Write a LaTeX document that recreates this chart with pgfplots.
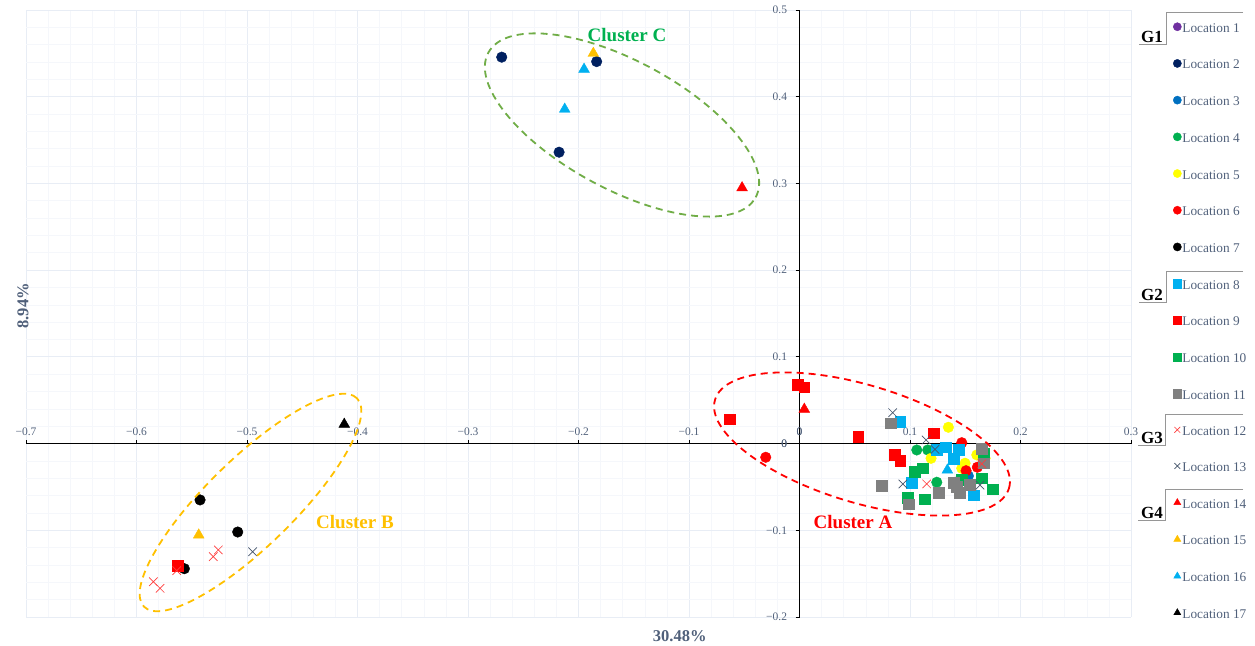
\documentclass[border=0pt]{standalone}
\usepackage{fontspec}
\setmainfont{Liberation Serif}
\usepackage{pgfplots}
\pgfplotsset{compat=1.18}
\definecolor{cA}{RGB}{112,48,160}
\definecolor{cB}{RGB}{0,32,96}
\definecolor{cC}{RGB}{0,112,192}
\definecolor{cD}{RGB}{0,176,80}
\definecolor{cE}{RGB}{255,255,0}
\definecolor{cF}{RGB}{255,0,0}
\definecolor{cH}{RGB}{0,176,240}
\definecolor{cK}{RGB}{128,128,128}
\definecolor{cL}{RGB}{255,60,60}
\definecolor{cM}{RGB}{68,84,106}
\definecolor{cO}{RGB}{255,192,0}
\definecolor{ellC}{RGB}{112,173,71}
\definecolor{slate}{RGB}{80,96,122}
\definecolor{gmaj}{RGB}{232,237,245}
\definecolor{gmin}{RGB}{245,247,251}
\definecolor{brk}{RGB}{150,150,150}
\begin{document}
\begin{tikzpicture}[x=1pt,y=1pt]
\path[use as bounding box] (0,0) rectangle (1255,645);
\begin{axis}[
  at={(26pt,28pt)}, anchor=south west,
  scale only axis, width=1105pt, height=607pt,
  xmin=-0.7, xmax=0.3, ymin=-0.2, ymax=0.5,
  axis lines=middle,
  axis line style={black, line width=1pt, -},
  xtick={-0.7,-0.6,-0.5,-0.4,-0.3,-0.2,-0.1,0,0.1,0.2,0.3},
  xticklabels={−0.7,−0.6,−0.5,−0.4,−0.3,−0.2,−0.1,0,0.1,0.2,0.3},
  ytick={-0.2,-0.1,0,0.1,0.2,0.3,0.4,0.5},
  yticklabels={−0.2,−0.1,0,0.1,0.2,0.3,0.4,0.5},
  extra y ticks={0}, extra y tick labels={0},
  extra x ticks={0}, extra x tick labels={0},
  extra tick style={grid=none},
  minor tick num=4,
  grid=both,
  major grid style={draw=gmaj, line width=0.8pt},
  minor grid style={draw=gmin, line width=0.6pt},
  tick align=outside,
  major tick length=4pt, minor tick length=0pt,
  x tick style={yshift=4pt, black, line width=0.8pt},
  y tick style={black, line width=0.8pt},
  tick label style={font=\fontsize{11.5}{11.5}\selectfont, text=slate},
  x tick label style={anchor=south, yshift=8pt},
  y tick label style={anchor=east, xshift=-5pt},
  hide obscured x ticks=false, hide obscured y ticks=false,
  clip=false,
  legend cell align=left,
  legend image code/.code={\draw[mark repeat=2,mark phase=2,#1,mark size=4.1pt] plot coordinates {(0pt,3pt)(5pt,3pt)(10pt,3pt)};},
  legend style={at={(axis description cs:1.038,0.9795)}, anchor=north west,
    draw=none, fill=none, inner sep=0pt, row sep=23.1pt, column sep=1pt,
    nodes={inner sep=0pt, text height=9pt, text depth=4pt},
    font=\fontsize{13.3}{13.3}\selectfont, text=slate},
]
\addplot[only marks, mark=*, color=cA, mark size=5.3pt] coordinates {(0.1452,-0.0420)};
\addlegendentry{Location 1}
\addplot[only marks, mark=*, color=cB, mark size=5.3pt] coordinates {(-0.2695,0.4456) (-0.1836,0.4405) (-0.2176,0.3360)};
\addlegendentry{Location 2}
\addplot[only marks, mark=*, color=cC, mark size=5.3pt] coordinates {(0.1528,-0.0374)};
\addlegendentry{Location 3}
\addplot[only marks, mark=*, color=cD, mark size=5.3pt] coordinates {(0.1061,-0.0074) (0.1160,-0.0074) (0.1242,-0.0446)};
\addlegendentry{Location 4}
\addplot[only marks, mark=*, color=cE, mark size=5.3pt] coordinates {(0.1347,0.0188) (0.1190,-0.0170) (0.1498,-0.0227) (0.1468,-0.0285) (0.1604,-0.0131) (0.1679,-0.0170)};
\addlegendentry{Location 5}
\addplot[only marks, mark=*, color=cF, mark size=5.3pt] coordinates {(-0.0306,-0.0158) (0.1468,0.0010) (0.1507,-0.0313) (0.1609,-0.0273)};
\addlegendentry{Location 6}
\addplot[only marks, mark=*, color=black, mark size=5.3pt] coordinates {(-0.5425,-0.0650) (-0.5084,-0.1020) (-0.5567,-0.1443)};
\addlegendentry{Location 7}
\addplot[only marks, mark=square*, color=cH, mark size=5.4pt] coordinates {(0.0910,0.0253) (0.1242,-0.0074) (0.1326,-0.0043) (0.1437,-0.0074) (0.1392,-0.0170) (0.1015,-0.0451) (0.1573,-0.0596)};
\addlegendentry{Location 8}
\addplot[only marks, mark=square*, color=cF, mark size=5.4pt] coordinates {(-0.0020,0.0676) (0.0043,0.0650) (-0.0635,0.0280) (0.0530,0.0080) (0.0864,-0.0124) (0.0910,-0.0200) (0.1211,0.0119) (-0.5627,-0.1404)};
\addlegendentry{Location 9}
\addplot[only marks, mark=square*, color=cD, mark size=5.4pt] coordinates {(0.1115,-0.0285) (0.1045,-0.0324) (0.0977,-0.0624) (0.1136,-0.0642) (0.1748,-0.0527) (0.1649,-0.0400) (0.1663,-0.0112) (0.1468,-0.0420)};
\addlegendentry{Location 10}
\addplot[only marks, mark=square*, color=cK, mark size=5.4pt] coordinates {(0.0825,0.0234) (0.0744,-0.0486) (0.0986,-0.0700) (0.1256,-0.0566) (0.1392,-0.0451) (0.1452,-0.0566) (0.1543,-0.0478) (0.1649,-0.0062) (0.1663,-0.0227) (0.1420,-0.0500)};
\addlegendentry{Location 11}
\addplot[only marks, mark=x, color=cL, mark size=6pt, mark options={line width=0.7pt}] coordinates {(0.1151,-0.0466) (0.1649,-0.0235) (-0.5260,-0.1227) (-0.5305,-0.1304) (-0.5636,-0.1466) (-0.5848,-0.1593) (-0.5787,-0.1669)};
\addlegendentry{Location 12}
\addplot[only marks, mark=x, color=cM, mark size=6pt, mark options={line width=0.7pt}] coordinates {(0.0843,0.0356) (0.1145,0.0042) (0.1226,-0.0066) (0.0935,-0.0466) (0.1633,-0.0478) (-0.4949,-0.1247)};
\addlegendentry{Location 13}
\addplot[only marks, mark=triangle*, color=cF, mark size=6.2pt] coordinates {(0.0043,0.0396) (-0.0520,0.2950)};
\addlegendentry{Location 14}
\addplot[only marks, mark=triangle*, color=cO, mark size=6.2pt] coordinates {(-0.1866,0.4500) (-0.5437,-0.1054)};
\addlegendentry{Location 15}
\addplot[only marks, mark=triangle*, color=cH, mark size=6.2pt] coordinates {(-0.1950,0.4317) (-0.2125,0.3856) (0.1338,-0.0305)};
\addlegendentry{Location 16}
\addplot[only marks, mark=triangle*, color=black, mark size=6.2pt] coordinates {(-0.4120,0.0223)};
\addlegendentry{Location 17}
\end{axis}
% cluster ellipses
\draw[ellC, line width=1.8pt, dash pattern=on 7pt off 5pt, rotate around={-28.4:(622,520)}] (622,520) ellipse [x radius=152, y radius=64];
\draw[cO, line width=1.8pt, dash pattern=on 7pt off 5pt, rotate around={44.35:(250.5,142.5)}] (250.5,142.5) ellipse [x radius=149, y radius=43.7];
\draw[cF, line width=1.8pt, dash pattern=on 7pt off 5pt, rotate around={-16.8:(862,201)}] (862,201) ellipse [x radius=153.5, y radius=58.7];
\node[anchor=base, text=cD, font=\fontsize{19}{19}\selectfont\bfseries] at (627,603) {Cluster C};
\node[anchor=base, text=cO, font=\fontsize{19}{19}\selectfont\bfseries] at (355,116.5) {Cluster B};
\node[anchor=base, text=cF, font=\fontsize{19}{19}\selectfont\bfseries] at (853,116.7) {Cluster A};
% axis titles
\node[anchor=base, text=slate, font=\fontsize{16.5}{16.5}\selectfont\bfseries] at (679.7,3.3) {30.48\%};
\node[anchor=base, rotate=90, text=slate, font=\fontsize{16.5}{16.5}\selectfont\bfseries] at (28.3,339.2) {8.94\%};
% legend group headers
\draw[brk, line width=1pt] (1243,632.3) -- (1166,632.3) -- (1166,600.7) -- (1139,600.7);
\draw[brk, line width=1pt] (1243,373.3) -- (1166,373.3) -- (1166,342.3) -- (1139,342.3);
\draw[brk, line width=1pt] (1243,230.7) -- (1165,230.7) -- (1165,199) -- (1138,199);
\draw[brk, line width=1pt] (1243,155.7) -- (1165,155.7) -- (1165,124) -- (1138,124);
\node[font=\fontsize{17}{17}\selectfont\bfseries] at (1152,608) {G1};
\node[font=\fontsize{17}{17}\selectfont\bfseries] at (1152,350) {G2};
\node[font=\fontsize{17}{17}\selectfont\bfseries] at (1152,206.7) {G3};
\node[font=\fontsize{17}{17}\selectfont\bfseries] at (1152,132.3) {G4};
\end{tikzpicture}
\end{document}
